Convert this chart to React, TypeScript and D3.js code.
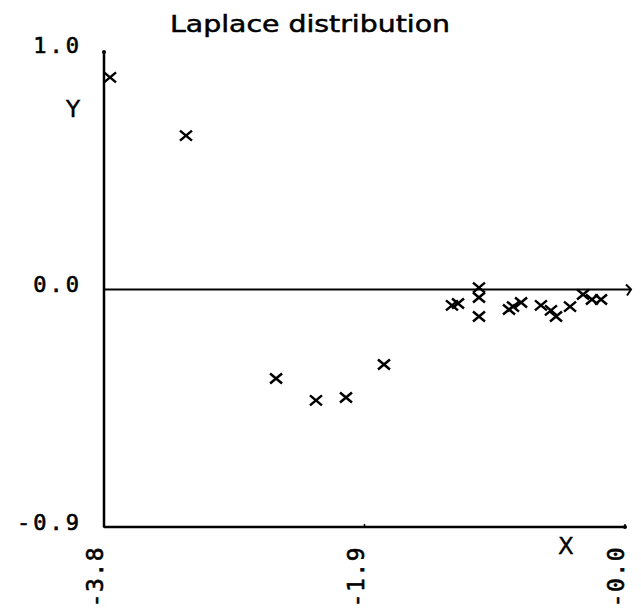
import React from "react";
import * as d3 from "d3";

const title = "Laplace distribution";
const xValues = [-3.756, -3.202, -2.545, -2.254, -2.035, -1.758, -1.262, -1.218, -1.065, -1.065, -1.065, -0.846, -0.817, -0.758, -0.613, -0.540, -0.503, -0.401, -0.306, -0.241, -0.175];
const yValues = [0.893, 0.648, -0.375, -0.467, -0.455, -0.316, -0.067, -0.059, 0.008, -0.034, -0.114, -0.084, -0.072, -0.055, -0.067, -0.088, -0.114, -0.072, -0.021, -0.042, -0.042];
const xTickValues = [-3.8, -1.9, 0];
const xTickLabels = ["-3.8", "-1.9", "-0.0"];
const yTickValues = [1.0, 0.0, -1.0];
const yTickLabels = ["1.0", "0.0", "-0.9"];
const xLabel = "X";
const yLabel = "Y";

export default function App() {
  const W = 641, H = 616;
  const x = d3.scaleLinear().domain([-3.8, 0]).range([104, 625]);
  const y = d3.scaleLinear().domain([-1, 1]).range([527, 52]);
  const mono = "'DejaVu Sans Mono', monospace";
  const pts = xValues.map((v, i) => [x(v), y(yValues[i])]);
  const y0 = y(0);
  return (
    <svg width={W} height={H} style={{ position: "absolute", left: 0, top: 0, background: "#fff" }}>
      <rect x={0} y={0} width={W} height={H} fill="#fff" />
      <text x={310} y={32} textAnchor="middle" fontFamily="'DejaVu Sans', sans-serif" fontSize={23} textLength={280} lengthAdjust="spacingAndGlyphs" fill="#000" stroke="#000" strokeWidth={0.5}>{title}</text>
      {/* left axis */}
      <line x1={x(-3.8)} x2={x(-3.8)} y1={y(1)} y2={y(-1)} stroke="#000" strokeWidth={2.5} />
      <circle cx={x(-3.8)} cy={y(1)} r={2} fill="#000" />
      {/* bottom axis */}
      <line x1={x(-3.8)} x2={x(0)} y1={y(-1)} y2={y(-1)} stroke="#000" strokeWidth={2.5} />
      <circle cx={x(0)} cy={y(-1)} r={2} fill="#000" />
      {/* zero line with arrow */}
      <line x1={x(-3.8)} x2={x(0) + 5} y1={y0} y2={y0} stroke="#000" strokeWidth={2.2} />
      <path d={`M${x(0) + 1},${y0 - 5} L${x(0) + 6},${y0} L${x(0) + 2},${y0 + 6}`} fill="none" stroke="#000" strokeWidth={2} />
      {/* x ticks */}
      {xTickValues.map((v, i) => (
        <g key={"xt" + i}>
          <line x1={x(v)} x2={x(v)} y1={y(-1) - 3} y2={y(-1) + 1} stroke="#000" strokeWidth={1.5} />
          <text transform={`translate(${x(v) - 1},546) rotate(-90)`} textAnchor="end" fontFamily={mono} fontSize={23} letterSpacing={1.5} fill="#000" stroke="#000" strokeWidth={0.6}>{xTickLabels[i]}</text>
        </g>
      ))}
      {/* y ticks */}
      {yTickValues.map((v, i) => (
        <text key={"yt" + i} x={82} y={y(v) + (i === 0 ? 1 : i === 1 ? 2 : 3)} textAnchor="end" fontFamily={mono} fontSize={22} letterSpacing={3} fill="#000" stroke="#000" strokeWidth={0.6}>{yTickLabels[i]}</text>
      ))}
      <text x={73} y={117} textAnchor="middle" fontFamily="'DejaVu Sans', sans-serif" fontSize={23} fill="#000" stroke="#000" strokeWidth={0.4}>{yLabel}</text>
      <text x={566} y={554} textAnchor="middle" fontFamily="'DejaVu Sans', sans-serif" fontSize={23} fill="#000" stroke="#000" strokeWidth={0.4}>{xLabel}</text>
      {/* markers */}
      {pts.map(([px, py], i) => (
        <path key={"p" + i} d={`M${px - 6},${py - 5} L${px + 6},${py + 5} M${px - 6},${py + 5} L${px + 6},${py - 5}`} stroke="#000" strokeWidth={2.5} fill="none" />
      ))}
    </svg>
  );
}
